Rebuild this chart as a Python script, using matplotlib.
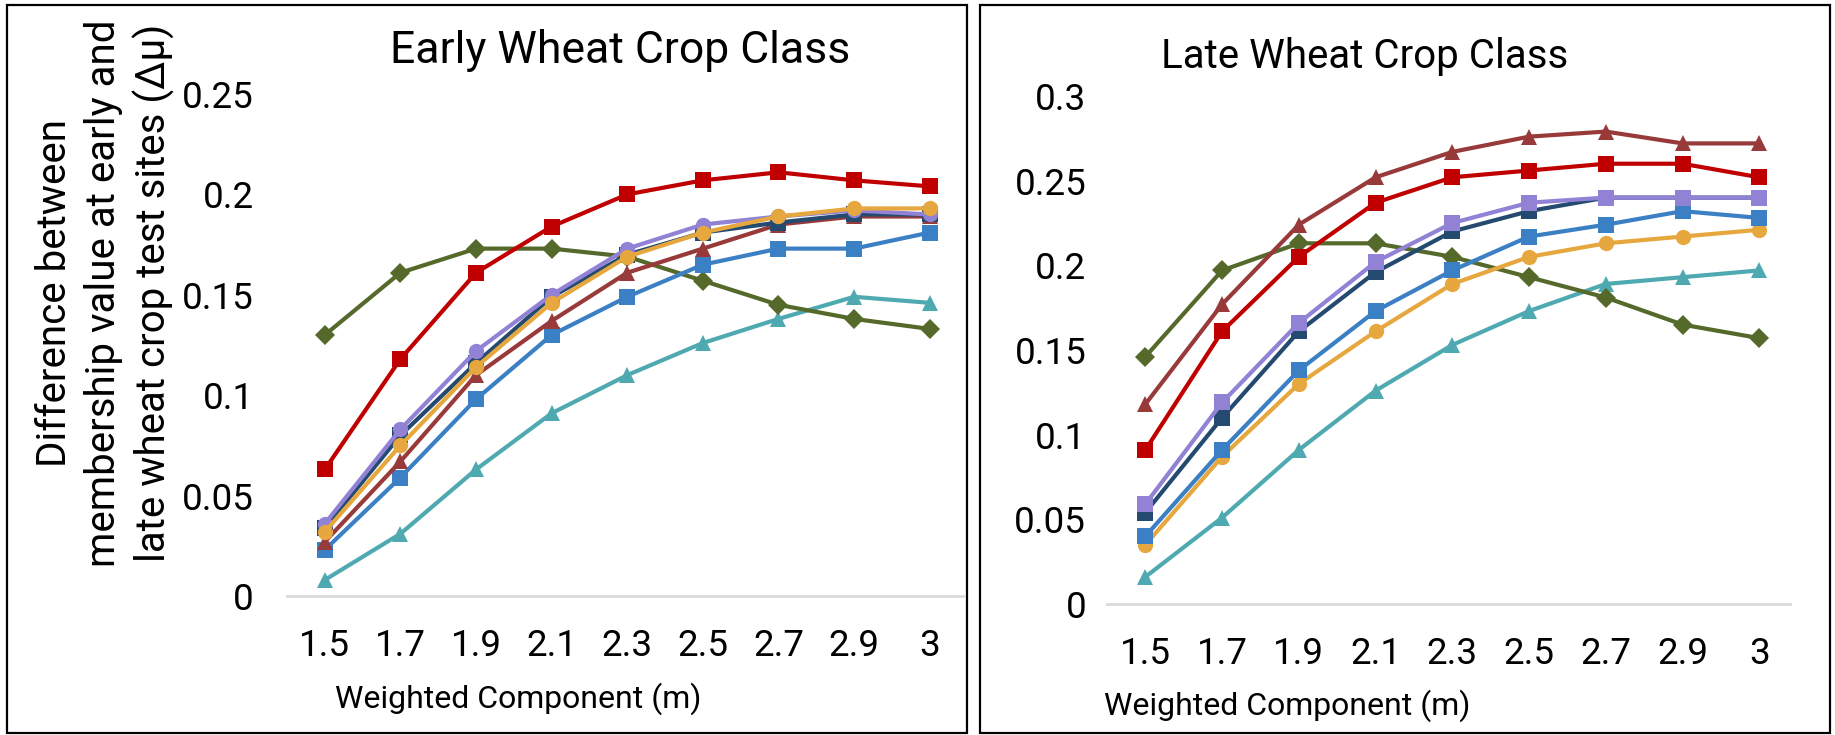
import matplotlib
matplotlib.use("Agg")
import matplotlib.pyplot as plt
from matplotlib.patches import Rectangle

plt.rcParams["font.family"] = ["Roboto", "DejaVu Sans"]

weights = ["1.5", "1.7", "1.9", "2.1", "2.3", "2.5", "2.7", "2.9", "3"]

# early wheat crop class
early_red = [0.063, 0.118, 0.161, 0.184, 0.200, 0.207, 0.211, 0.207, 0.204]
early_olive = [0.130, 0.161, 0.173, 0.173, 0.169, 0.157, 0.145, 0.138, 0.133]
early_purple = [0.036, 0.083, 0.122, 0.150, 0.173, 0.185, 0.189, 0.192, 0.190]
early_navy = [0.034, 0.080, 0.116, 0.149, 0.170, 0.181, 0.186, 0.190, 0.190]
early_orange = [0.032, 0.075, 0.114, 0.146, 0.169, 0.181, 0.189, 0.193, 0.193]
early_brown = [0.027, 0.067, 0.110, 0.137, 0.161, 0.173, 0.185, 0.189, 0.189]
early_blue = [0.023, 0.059, 0.098, 0.130, 0.149, 0.165, 0.173, 0.173, 0.181]
early_teal = [0.008, 0.031, 0.063, 0.091, 0.110, 0.126, 0.138, 0.149, 0.146]

# late wheat crop class
late_brown = [0.118, 0.177, 0.224, 0.252, 0.267, 0.276, 0.279, 0.272, 0.272]
late_red = [0.091, 0.161, 0.205, 0.237, 0.252, 0.256, 0.260, 0.260, 0.252]
late_olive = [0.146, 0.197, 0.213, 0.213, 0.205, 0.193, 0.181, 0.165, 0.157]
late_purple = [0.059, 0.119, 0.166, 0.202, 0.225, 0.237, 0.240, 0.240, 0.240]
late_navy = [0.054, 0.110, 0.161, 0.196, 0.220, 0.232, 0.240, 0.240, 0.240]
late_blue = [0.040, 0.091, 0.138, 0.173, 0.197, 0.217, 0.224, 0.232, 0.228]
late_orange = [0.035, 0.087, 0.130, 0.161, 0.189, 0.205, 0.213, 0.217, 0.221]
late_teal = [0.016, 0.051, 0.091, 0.126, 0.153, 0.173, 0.189, 0.193, 0.197]

RED = "#C00000"
OLIVE = "#55692B"
PURPLE = "#9182D6"
NAVY = "#244A70"
BLUE = "#3B7FC4"
ORANGE = "#E6A73E"
BROWN = "#983A3A"
TEAL = "#4EAAB0"

early = [
    (early_teal, TEAL, "^"),
    (early_olive, OLIVE, "D"),
    (early_blue, BLUE, "s"),
    (early_brown, BROWN, "^"),
    (early_navy, NAVY, "s"),
    (early_purple, PURPLE, "o"),
    (early_orange, ORANGE, "o"),
    (early_red, RED, "s"),
]
late = [
    (late_teal, TEAL, "^"),
    (late_olive, OLIVE, "D"),
    (late_orange, ORANGE, "o"),
    (late_blue, BLUE, "s"),
    (late_navy, NAVY, "s"),
    (late_purple, PURPLE, "s"),
    (late_red, RED, "s"),
    (late_brown, BROWN, "^"),
]

fig = plt.figure(figsize=(18.35, 7.35), dpi=100)

# panel frames
for x0, x1 in [(7, 967), (980, 1830)]:
    fig.patches.append(Rectangle((x0 / 1835, 2 / 735), (x1 - x0) / 1835, 728 / 735,
                                 transform=fig.transFigure, fill=False,
                                 edgecolor="black", linewidth=1.6))

ax1 = fig.add_axes([287 / 1835, 139 / 735, 676 / 1835, 502 / 735])
ax2 = fig.add_axes([1107 / 1835, 131 / 735, 683 / 1835, 508 / 735])


def draw(ax, series, ymax, step, xmax, ypad, xpad):
    x = range(len(weights))
    for vals, color, mk in series:
        ms = 10 if mk == "D" else 11
        ax.plot(x, vals, color=color, marker=mk, markersize=ms, linewidth=3,
                markeredgewidth=0, clip_on=False)
    ax.set_xlim(-0.5, xmax)
    ax.set_ylim(0, ymax)
    ticks = [round(i * step, 2) for i in range(int(round(ymax / step)) + 1)]
    ax.set_yticks(ticks)
    ax.set_yticklabels(["0" if t == 0 else ("%g" % t) for t in ticks])
    ax.set_xticks(list(x))
    ax.set_xticklabels(weights)
    for s in ["top", "right", "left"]:
        ax.spines[s].set_visible(False)
    ax.spines["bottom"].set_color("#D9D9D9")
    ax.spines["bottom"].set_linewidth(2)
    ax.tick_params(axis="y", length=0, labelsize=26.5, pad=ypad)
    ax.tick_params(axis="x", length=0, labelsize=26.5, pad=xpad)


draw(ax1, early, 0.25, 0.05, 8.44, 24, 23)
draw(ax2, late, 0.3, 0.05, 8.4, 15, 23)

fig.text(620 / 1835, 1 - 50 / 735, "Early Wheat Crop Class", ha="center", va="center",
         fontsize=32)
fig.text(1365 / 1835, 1 - 56 / 735, "Late Wheat Crop Class", ha="center", va="center",
         fontsize=29)

fig.text(518 / 1835, 1 - 699 / 735, "Weighted Component (m)", ha="center", va="center",
         fontsize=23)
fig.text(1287 / 1835, 1 - 706 / 735, "Weighted Component (m)", ha="center", va="center",
         fontsize=23)

fig.text(105 / 1835, 1 - 293 / 735,
         "Difference between\nmembership value at early and\nlate wheat crop test sites (Δμ)",
         rotation=90, ha="center", va="center", multialignment="center",
         fontsize=29, linespacing=1.3)

fig.savefig("out.png", dpi=100)
